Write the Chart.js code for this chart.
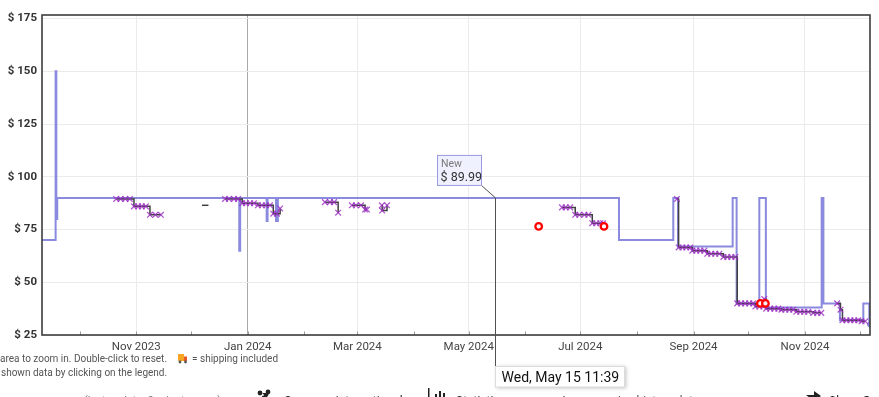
<!DOCTYPE html>
<html><head><meta charset="utf-8">
<script src="https://cdn.jsdelivr.net/npm/chart.js@4/dist/chart.umd.min.js"></script>
<style>html,body{margin:0;padding:0;background:#fff;overflow:hidden}canvas{display:block}</style>
</head><body>
<canvas id="c" width="879" height="397"></canvas>
<script>
// ---------------- data ----------------
const xRange = ["2023-09-10T10:00", "2024-12-06T14:00"];
const yRange = [25, 176.7];
const yTickValues = [25, 50, 75, 100, 125, 150, 175];
const monthTickDates = ["2023-10-01","2023-11-01","2023-12-01","2024-01-01","2024-02-01","2024-03-01","2024-04-01","2024-05-01","2024-06-01","2024-07-01","2024-08-01","2024-09-01","2024-10-01","2024-11-01","2024-12-01"];
const monthTickLabels = ["","Nov 2023","","Jan 2024","","Mar 2024","","May 2024","","Jul 2024","","Sep 2024","","Nov 2024",""];
const yearStartDate = "2024-01-01";

// "New" price (stepped)
const newDates = ["2023-09-08","2023-09-17T21:00","2023-09-18T06:00","2023-09-18T18:00",
  "2023-12-27T09:00","2023-12-27T21:00","2024-01-11T09:00","2024-01-11T21:00",
  "2024-01-16T12:00","2024-01-17T12:00","2024-07-22T05:00","2024-08-20T22:00",
  "2024-08-23T12:00","2024-09-22T10:00","2024-09-24T14:00","2024-10-07T00:00",
  "2024-10-10T14:00","2024-11-10T03:00","2024-11-11T02:00","2024-11-20T03:00",
  "2024-12-02T22:00","2024-12-06T05:00","2024-12-06T13:00"];
const newPrices = [69.99,149.99,79.99,89.99,
  64.99,89.99,78.99,89.99,
  78.99,89.99,69.99,89.99,
  66.99,89.99,39.99,89.99,
  37.99,89.99,39.99,31.99,
  39.99,29.99,29.99];

// Used offers (stepped, crosses), null = gap
const usedDates = [
  "2023-10-21","2023-10-23T12:00","2023-10-26","2023-10-28T12:00","2023-10-30T18:00","2023-11-02","2023-11-04","2023-11-06T06:00","2023-11-08T12:00","2023-11-11T12:00","2023-11-14T12:00","2023-11-20",
  "2023-12-19T14:00","2023-12-21T18:00","2023-12-24T12:00","2023-12-26T18:00","2023-12-29","2023-12-31","2024-01-02T08:00","2024-01-04T10:00","2024-01-06T14:00","2024-01-08T18:00","2024-01-11","2024-01-13T04:00","2024-01-15","2024-01-17","2024-01-18T18:00","2024-01-25",
  "2024-02-12T06:00","2024-02-15","2024-02-17T06:00","2024-02-19T12:00","2024-02-23",
  "2024-02-27","2024-02-29T06:00","2024-03-03","2024-03-05T06:00","2024-03-06T06:00","2024-03-10",
  "2024-03-14T10:00","2024-03-14T14:00","2024-03-17T06:00","2024-03-25",
  "2024-06-21","2024-06-23","2024-06-25T12:00","2024-06-28T06:00","2024-06-30T12:00","2024-07-03T06:00","2024-07-05T12:00","2024-07-07T14:00","2024-07-09T18:00","2024-07-12","2024-07-13T12:00","2024-07-20",
  "2024-08-22T22:00","2024-08-23T20:00","2024-08-25T22:00","2024-08-28","2024-08-30T06:00","2024-08-31T08:00","2024-09-02T12:00","2024-09-04T16:00","2024-09-06T22:00","2024-09-08T12:00","2024-09-10T16:00","2024-09-12T22:00","2024-09-15T02:00","2024-09-17T08:00","2024-09-19T12:00","2024-09-21T16:00","2024-09-23T22:00","2024-09-24T22:00","2024-09-27","2024-09-29T06:00","2024-10-01T12:00","2024-10-03T16:00","2024-10-04T20:00","2024-10-07","2024-10-09T06:00","2024-10-09T18:00","2024-10-10T18:00","2024-10-13","2024-10-15T06:00","2024-10-17T10:00","2024-10-19T02:00","2024-10-21T06:00","2024-10-23T10:00","2024-10-25T14:00","2024-10-27T06:00","2024-10-29T10:00","2024-10-31T14:00","2024-11-02T18:00","2024-11-05T12:00","2024-11-07T16:00","2024-11-09T22:00","2024-11-14",
  "2024-11-18T14:00","2024-11-20T10:00","2024-11-21T12:00","2024-11-23T16:00","2024-11-25T20:00","2024-11-28","2024-11-30T04:00","2024-12-01T22:00","2024-12-04"];
const usedPrices = [
  89.49,89.49,89.49,89.49,85.99,85.99,85.99,85.99,81.99,81.99,81.99,null,
  89.49,89.49,89.49,89.49,87.49,87.49,87.49,87.49,86.49,86.49,86.49,86.49,82.49,82.49,84.99,null,
  87.99,87.99,87.99,82.99,null,
  86.49,86.49,86.49,84.49,84.49,null,
  86.49,83.99,86.49,null,
  85.49,85.49,85.49,81.99,81.99,81.99,81.99,77.99,77.99,77.99,77.99,null,
  89.49,66.49,66.49,66.49,66.49,64.99,64.99,64.99,64.99,63.49,63.49,63.49,63.49,61.99,61.99,61.99,61.99,39.99,39.99,39.99,39.99,39.99,38.49,38.49,38.49,41.99,37.49,37.49,37.49,37.49,36.99,36.99,36.99,36.99,35.99,35.99,35.99,35.99,35.49,35.49,35.49,null,
  39.99,36.99,31.99,31.99,31.99,31.99,31.99,31.49,31.49];

// short offer line without markers
const otherDates = ["2023-12-07","2023-12-10T12:00"];
const otherPrices = [86.49, 86.49];

// deal markers (red rings)
const dealDates = ["2024-06-08T06:00","2024-07-14","2024-10-07T14:00","2024-10-10T08:00"];
const dealPrices = [76.49, 76.49, 39.99, 39.99];

// hovered point
const hoverSeries = "New";
const hoverDate = "2024-05-15T11:39";
const hoverPrice = 89.99;
const hoverDateLabel = "Wed, May 15 11:39";

// page texts under the chart
const noteLine1 = "area to zoom in. Double-click to reset.";
const noteShipping = "= shipping included";
const noteLine2 = "shown data by clicking on the legend.";
const bottomLastUpdate = "(last update: 9 minutes ago)";
const bottomCompare = "Compare international";
const bottomStats = "Statistic";
const bottomData = "Amazon price history data";
const bottomShare = "Share Graph";

// ---------------- helpers ----------------
const toDay = s => Date.parse(s.length === 10 ? s + "T00:00:00Z" : s + ":00Z") / 86400000;
const pts = (ds, vs) => ds.map((d, i) => ({ x: toDay(d), y: vs[i] }));
const FONT = "Roboto, 'Open Sans', Arial, sans-serif";

const overlay = {
  id: 'overlay',
  afterDraw(chart) {
    const { ctx, chartArea: a, scales: { x, y } } = chart;
    ctx.save();
    // month tick marks (inside)
    ctx.strokeStyle = '#9a9a9a'; ctx.lineWidth = 1;
    monthTickDates.forEach(d => {
      const px = Math.round(x.getPixelForValue(toDay(d))) + 0.5;
      ctx.beginPath(); ctx.moveTo(px, a.bottom); ctx.lineTo(px, a.bottom - 3.5); ctx.stroke();
    });
    // frame
    ctx.strokeStyle = '#3d3d3d'; ctx.lineWidth = 1.6;
    ctx.strokeRect(a.left, a.top, a.right - a.left, a.bottom - a.top);

    // crosshair
    const hx = Math.round(x.getPixelForValue(toDay(hoverDate))) + 0.5;
    const hy = y.getPixelForValue(hoverPrice);
    ctx.strokeStyle = '#505050'; ctx.lineWidth = 1;
    ctx.beginPath(); ctx.moveTo(hx, hy); ctx.lineTo(hx, 367); ctx.stroke();

    // tooltip box
    const bw = 45, bh = 31, br = hx - 13.5, bb = hy - 12;
    ctx.beginPath(); ctx.moveTo(br, bb); ctx.lineTo(hx, hy); ctx.stroke();
    ctx.fillStyle = 'rgba(238,241,255,0.97)';
    ctx.fillRect(br - bw, bb - bh, bw, bh);
    ctx.strokeStyle = '#9a9ae0'; ctx.lineWidth = 1;
    ctx.strokeRect(br - bw + 0.5, bb - bh + 0.5, bw - 1, bh - 1);
    ctx.textAlign = 'left'; ctx.textBaseline = 'alphabetic';
    ctx.fillStyle = '#7a7a7a'; ctx.font = "10.5px " + FONT;
    ctx.fillText(hoverSeries, br - bw + 4, bb - bh + 12);
    ctx.fillStyle = '#333'; ctx.font = "12.5px " + FONT;
    ctx.fillText('$ ' + hoverPrice.toFixed(2), br - bw + 3.5, bb - 5);

    // footer notes
    ctx.fillStyle = '#555'; ctx.font = "10px " + FONT;
    ctx.fillText(noteLine1, 0, 362);
    ctx.fillText(noteShipping, 192, 362);
    ctx.fillText(noteLine2, 1, 376);
    // truck icon
    ctx.fillStyle = '#f5a623'; ctx.fillRect(178, 354, 6, 7);
    ctx.fillStyle = '#e8562a'; ctx.fillRect(184, 356.5, 3, 4.5);
    ctx.fillStyle = '#555'; ctx.beginPath(); ctx.arc(180, 362, 1.4, 0, 7); ctx.arc(185.5, 362, 1.4, 0, 7); ctx.fill();

    // bottom row (mostly cut off by the window edge)
    ctx.fillStyle = '#777'; ctx.font = "11px " + FONT;
    ctx.fillText(bottomLastUpdate, 84, 404);
    ctx.fillStyle = '#222'; ctx.font = "12px " + FONT;
    ctx.beginPath(); ctx.arc(260, 393, 2.4, 0, 7); ctx.arc(268, 392, 2.4, 0, 7); ctx.arc(264, 398, 2.4, 0, 7); ctx.fill();
    ctx.fillText(bottomCompare, 284, 405);
    ctx.fillRect(428, 388, 1.5, 10);
    ctx.fillRect(435, 394, 2, 4); ctx.fillRect(439, 391, 2, 7); ctx.fillRect(443, 393, 2, 5);
    ctx.fillText(bottomStats, 456, 405);
    ctx.fillStyle = '#555';
    ctx.fillText(bottomData, 560, 405);
    ctx.fillStyle = '#222';
    ctx.beginPath(); ctx.moveTo(806, 395); ctx.lineTo(814, 395); ctx.lineTo(814, 391); ctx.lineTo(821, 396); ctx.lineTo(814, 401); ctx.closePath(); ctx.fill();
    ctx.fillText(bottomShare, 829, 405);

    // date label box
    ctx.shadowColor = 'rgba(0,0,0,0.25)'; ctx.shadowBlur = 4; ctx.shadowOffsetX = 1; ctx.shadowOffsetY = 1;
    ctx.fillStyle = '#fff';
    ctx.fillRect(hx, 366, 129, 21);
    ctx.shadowColor = 'transparent';
    ctx.strokeStyle = '#dcdcdc'; ctx.strokeRect(hx, 366.5, 129, 20.5);
    ctx.fillStyle = '#111'; ctx.font = "14px " + FONT;
    ctx.fillText(hoverDateLabel, hx + 6, 382);
    ctx.restore();
  }
};

const gridColorX = c => {
  const i = c.index;
  if (monthTickDates[i] === yearStartDate) return '#a8a8a8';
  return monthTickLabels[i] ? '#ebebeb' : 'rgba(0,0,0,0)';
};

new Chart(document.getElementById('c'), {
  type: 'line',
  data: {
    datasets: [
      { label: 'Deals', data: pts(dealDates, dealPrices), showLine: false, order: 0,
        pointStyle: 'circle', pointRadius: 3.3, pointBorderWidth: 2.3, pointBorderColor: '#f00', pointBackgroundColor: 'rgba(255,255,255,0.9)' },
      { label: 'Used', data: pts(usedDates, usedPrices), stepped: true, spanGaps: false, order: 1,
        borderColor: '#404040', borderWidth: 1.5, pointStyle: 'crossRot', pointRadius: 4,
        pointBorderColor: 'rgba(155,45,195,0.8)', pointBackgroundColor: 'rgba(155,45,195,0.8)', pointBorderWidth: 1.3 },
      { label: 'Other', data: pts(otherDates, otherPrices), stepped: true, order: 2,
        borderColor: '#404040', borderWidth: 1.5, pointRadius: 0 },
      { label: 'New', data: pts(newDates, newPrices), stepped: true, order: 3,
        borderColor: 'rgba(125,125,218,0.9)', borderWidth: 2,
        pointRadius: c => c.dataIndex === newDates.length - 1 ? 2.8 : 0,
        pointBackgroundColor: 'rgba(125,125,218,0.9)', pointBorderWidth: 0 }
    ]
  },
  options: {
    responsive: false, animation: false, events: [],
    layout: { padding: { top: 15, right: 9, left: 0, bottom: 0 } },
    plugins: { legend: { display: false }, tooltip: { enabled: false } },
    elements: { line: { tension: 0 } },
    scales: {
      x: {
        type: 'linear', min: toDay(xRange[0]), max: toDay(xRange[1]),
        afterBuildTicks: s => { s.ticks = monthTickDates.map(d => ({ value: toDay(d) })); },
        ticks: { autoSkip: false, maxRotation: 0, padding: 5, color: '#444',
          font: { family: FONT, size: 11.5 }, callback: (v, i) => monthTickLabels[i] },
        grid: { drawTicks: false, color: gridColorX, lineWidth: 1 },
        border: { display: false },
        afterFit: s => { s.height = 62; }
      },
      y: {
        min: yRange[0], max: yRange[1],
        afterBuildTicks: s => { s.ticks = yTickValues.map(v => ({ value: v })); },
        ticks: { padding: 5, color: '#333', font: { family: FONT, size: 11.5, weight: 'bold' },
          callback: v => '$ ' + v },
        grid: { drawTicks: false, color: '#ebebeb' },
        border: { display: false },
        afterFit: s => { s.width = 42; }
      }
    }
  },
  plugins: [overlay]
});
</script>
</body></html>
